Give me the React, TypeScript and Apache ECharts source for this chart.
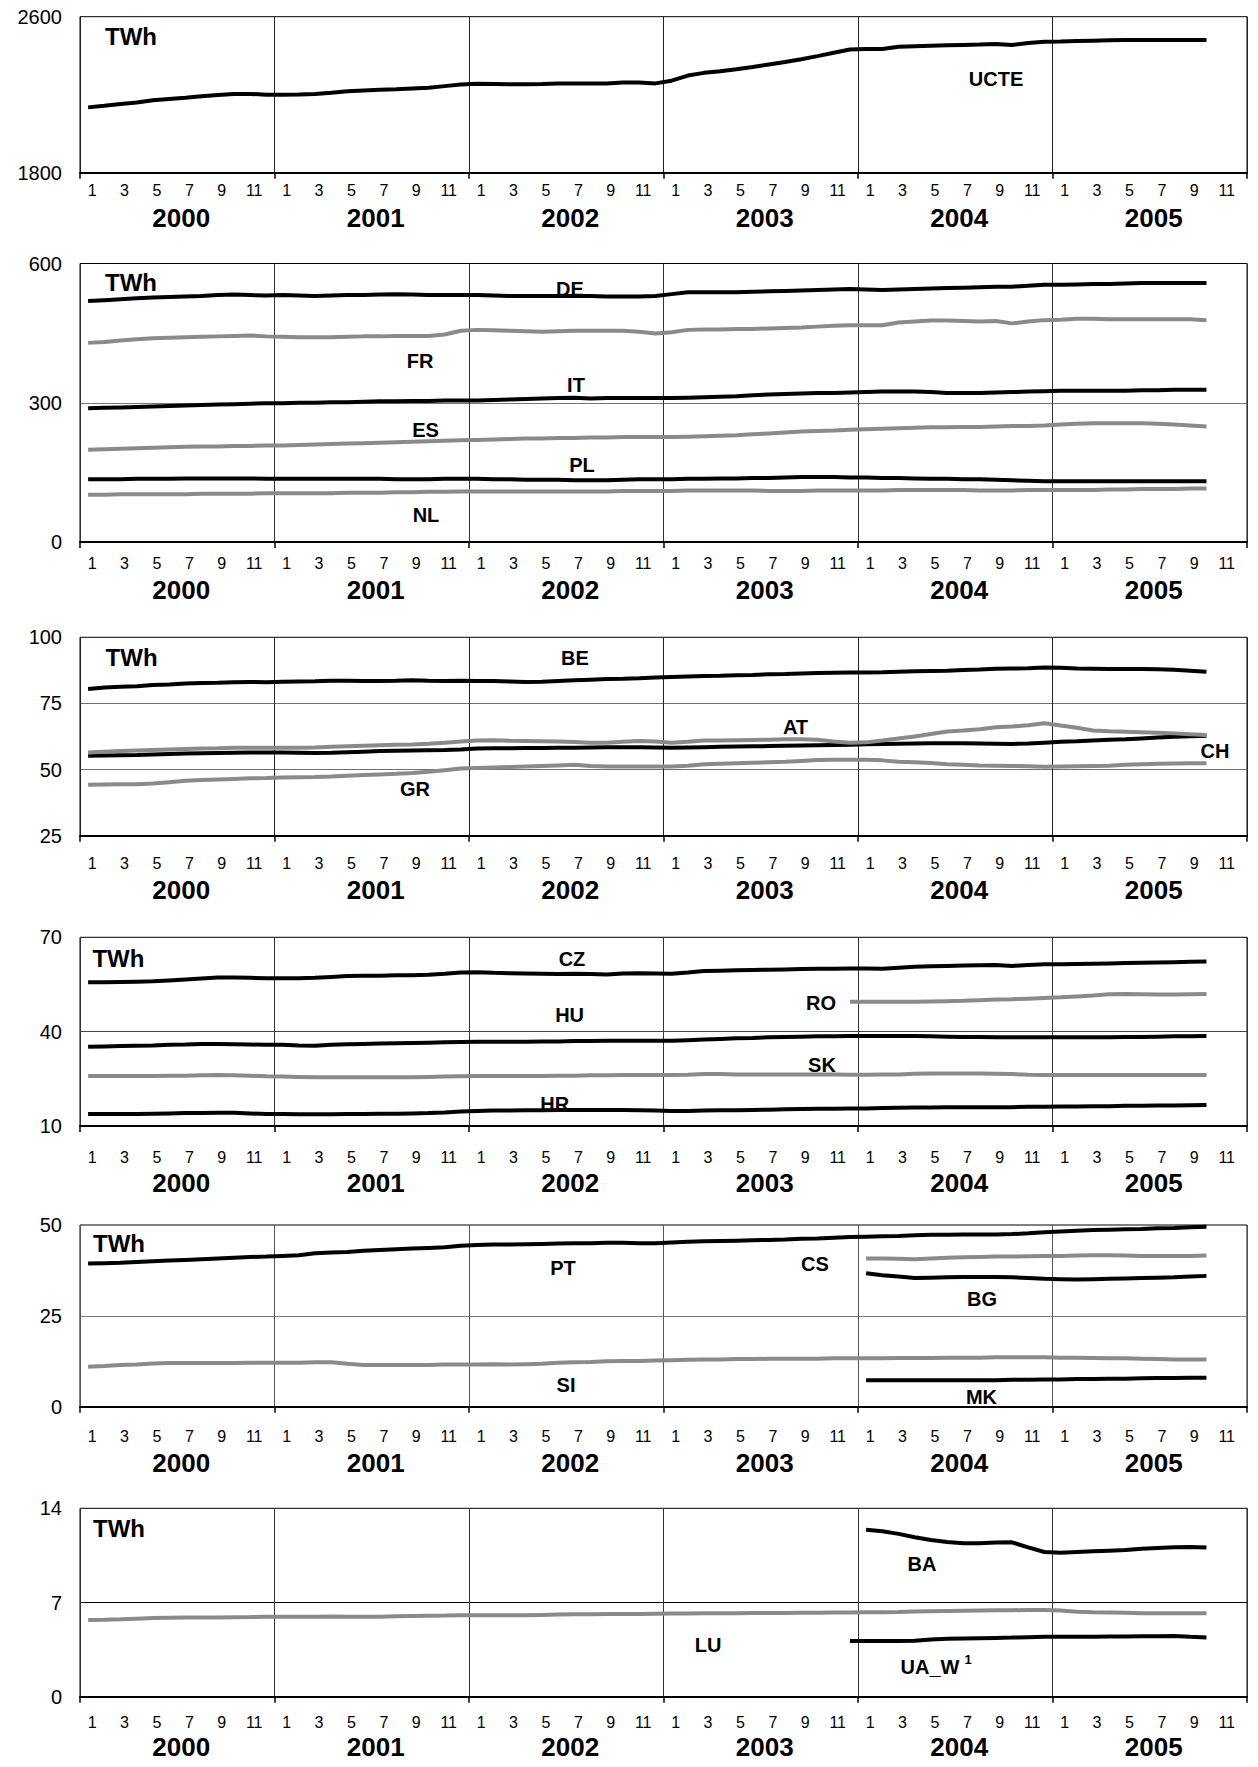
import React, { useEffect, useRef } from 'react';
import * as echarts from 'echarts';

const YEARS = ['2000', '2001', '2002', '2003', '2004', '2005'];
const MONTHS = ['1', '2', '3', '4', '5', '6', '7', '8', '9', '10', '11', '12'];
const CATEGORIES = YEARS.flatMap((y) => MONTHS.map((m) => `${y}-${m}`));

// start indices for series beginning later
const START_DEC_2003 = 47;
const START_JAN_2004 = 48;

// Panel 1
const UCTE = [
  2135, 2143, 2152, 2160, 2172, 2178, 2184, 2192, 2198, 2203, 2204, 2200,
  2200, 2201, 2204, 2210, 2218, 2222, 2225, 2228, 2232, 2236, 2244, 2252,
  2256, 2255, 2254, 2254, 2255, 2257, 2258, 2258, 2257, 2262, 2262, 2258,
  2272, 2298, 2312, 2320, 2330, 2342, 2355, 2368, 2382, 2398, 2415, 2432,
  2434, 2434, 2446, 2449, 2451, 2453, 2455, 2457, 2460, 2455, 2465, 2472,
  2473, 2475, 2477, 2479, 2480, 2481, 2481, 2481, 2481, 2480,
];

// Panel 2
const DE = [
  519, 521, 523, 525, 527, 528, 529, 530, 532, 533, 532, 531,
  532, 531, 530, 531, 532, 532, 533, 534, 533, 532, 532, 532,
  532, 531, 530, 530, 530, 530, 530, 530, 529, 529, 529, 530,
  534, 538, 538, 538, 538, 539, 540, 541, 542, 543, 544, 545,
  544, 543, 544, 545, 546, 547, 548, 549, 550, 550, 552, 554,
  554, 555, 556, 556, 557, 558, 558, 558, 558, 558,
];
const FR = [
  429, 431, 434, 437, 439, 440, 441, 442, 443, 444, 445, 443,
  442, 441, 441, 441, 442, 443, 443, 444, 444, 444, 447, 455,
  457, 456, 455, 454, 453, 454, 455, 455, 455, 455, 453, 449,
  452, 457, 458, 458, 459, 459, 460, 461, 462, 464, 466, 467,
  467, 467, 473, 475, 477, 477, 476, 475, 476, 471, 475, 478,
  479, 481, 481, 480, 480, 480, 480, 480, 480, 478,
];
const IT = [
  288, 289, 290, 291, 292, 293, 294, 295, 296, 297, 298, 299,
  299, 300, 300, 301, 301, 302, 303, 303, 304, 304, 305, 305,
  305, 306, 307, 308, 309, 310, 311, 309, 310, 310, 310, 310,
  310, 311, 312, 313, 314, 316, 318, 319, 320, 321, 321, 322,
  323, 324, 324, 324, 323, 321, 321, 321, 322, 323, 324, 325,
  326, 326, 326, 326, 326, 327, 327, 328, 328, 328,
];
const ES = [
  199, 200, 201, 202, 203, 204, 205, 206, 206, 207, 207, 208,
  208, 209, 210, 211, 212, 213, 214, 215, 216, 217, 218, 219,
  220, 221, 222, 223, 223, 224, 224, 225, 225, 226, 226, 226,
  226, 227, 228, 229, 230, 232, 234, 236, 238, 239, 240, 242,
  243, 244, 245, 246, 247, 247, 248, 248, 249, 250, 250, 251,
  253, 255, 256, 256, 256, 256, 255, 253, 251, 249,
];
const PL = [
  135, 135, 135, 136, 136, 136, 137, 137, 137, 137, 137, 136,
  136, 136, 136, 136, 136, 136, 136, 135, 135, 135, 136, 136,
  136, 135, 135, 134, 134, 134, 133, 133, 133, 134, 135, 135,
  135, 136, 136, 137, 137, 138, 138, 139, 140, 140, 140, 139,
  139, 138, 138, 137, 136, 136, 135, 135, 134, 133, 132, 131,
  131, 131, 131, 131, 131, 131, 131, 131, 131, 131,
];
const NL = [
  102, 102, 103, 103, 103, 103, 103, 104, 104, 104, 104, 105,
  105, 105, 105, 105, 106, 106, 106, 107, 107, 108, 108, 109,
  109, 109, 109, 109, 109, 109, 109, 109, 109, 110, 110, 110,
  110, 111, 111, 111, 111, 111, 110, 110, 110, 111, 111, 111,
  111, 111, 112, 112, 112, 112, 112, 111, 111, 111, 112, 112,
  112, 112, 112, 113, 113, 114, 114, 114, 115, 115,
];

// Panel 3
const BE = [
  80.5, 81.0, 81.3, 81.5, 82.0, 82.2, 82.5, 82.7, 82.8, 83.0, 83.1, 83.0,
  83.2, 83.3, 83.4, 83.6, 83.6, 83.5, 83.5, 83.6, 83.8, 83.6, 83.5, 83.6,
  83.5, 83.5, 83.3, 83.1, 83.2, 83.5, 83.8, 84.0, 84.2, 84.3, 84.5, 84.8,
  85.0, 85.2, 85.4, 85.5, 85.7, 85.8, 86.0, 86.1, 86.3, 86.5, 86.6, 86.7,
  86.7, 86.8, 87.0, 87.2, 87.3, 87.4, 87.6, 87.8, 88.1, 88.2, 88.3, 88.6,
  88.5, 88.2, 88.1, 88.0, 88.0, 88.0, 87.9, 87.7, 87.4, 87.0,
];
const AT = [
  56.5, 56.8, 57.0, 57.2, 57.4, 57.6, 57.8, 58.0, 58.1, 58.3, 58.3, 58.3,
  58.3, 58.3, 58.4, 58.6, 58.8, 59.0, 59.2, 59.4, 59.5, 59.8, 60.2, 60.6,
  61.0, 61.1, 60.9, 60.8, 60.7, 60.6, 60.4, 60.2, 60.2, 60.5, 60.8, 60.6,
  60.2, 60.5, 61.0, 61.0, 61.1, 61.2, 61.3, 61.5, 61.5, 61.3, 60.6, 60.2,
  60.3, 61.0, 61.8, 62.5, 63.5, 64.4, 64.8, 65.3, 66.0, 66.3, 66.8, 67.5,
  66.7, 65.8, 64.8, 64.5, 64.3, 64.1, 63.9, 63.7, 63.4, 63.1,
];
const CH = [
  55.2, 55.3, 55.4, 55.5, 55.7, 55.9, 56.1, 56.2, 56.3, 56.4, 56.5, 56.5,
  56.5, 56.4, 56.3, 56.4, 56.6, 56.8, 57.0, 57.1, 57.2, 57.3, 57.4, 57.6,
  58.0, 58.1, 58.1, 58.2, 58.2, 58.3, 58.3, 58.4, 58.5, 58.5, 58.5, 58.4,
  58.3, 58.4, 58.5, 58.6, 58.7, 58.8, 58.9, 59.0, 59.1, 59.2, 59.3, 59.4,
  59.6, 59.7, 59.8, 59.9, 60.0, 60.0, 60.0, 59.9, 59.8, 59.7, 59.9, 60.2,
  60.5, 60.7, 61.0, 61.3, 61.5, 61.8, 62.1, 62.4, 62.6, 62.8,
];
const GR = [
  44.3, 44.4, 44.5, 44.5, 44.8, 45.2, 45.8, 46.1, 46.3, 46.5, 46.7, 46.8,
  47.0, 47.1, 47.2, 47.4, 47.7, 48.0, 48.2, 48.4, 48.7, 49.2, 49.8, 50.4,
  50.6, 50.8, 51.0, 51.2, 51.4, 51.6, 51.8, 51.4, 51.2, 51.2, 51.2, 51.2,
  51.2, 51.5, 52.0, 52.2, 52.4, 52.6, 52.8, 53.0, 53.3, 53.6, 53.7, 53.7,
  53.7, 53.5, 53.0, 52.8, 52.5, 52.0, 51.8, 51.6, 51.5, 51.4, 51.3, 51.1,
  51.2, 51.3, 51.4, 51.5, 51.8, 52.0, 52.2, 52.3, 52.4, 52.4,
];

// Panel 4
const CZ = [
  55.7, 55.7, 55.8, 55.9, 56.0, 56.3, 56.6, 56.9, 57.2, 57.2, 57.1, 57.0,
  57.0, 57.0, 57.1, 57.4, 57.7, 57.8, 57.8, 57.9, 57.9, 58.1, 58.4, 58.8,
  58.9, 58.7, 58.6, 58.5, 58.4, 58.3, 58.4, 58.3, 58.2, 58.5, 58.6, 58.5,
  58.4, 58.8, 59.3, 59.4, 59.5, 59.6, 59.7, 59.8, 59.9, 60.0, 60.0, 60.1,
  60.1, 60.0, 60.3, 60.6, 60.8, 60.9, 61.0, 61.1, 61.2, 60.9, 61.2, 61.4,
  61.4, 61.5, 61.6, 61.7, 61.8, 61.9, 62.0, 62.1, 62.2, 62.3,
];
const HU = [
  35.2, 35.3, 35.4, 35.5, 35.6, 35.8, 35.9, 36.1, 36.1, 36.0, 35.9, 35.8,
  35.8, 35.6, 35.5, 35.8, 36.0, 36.1, 36.2, 36.3, 36.4, 36.5, 36.6, 36.7,
  36.8, 36.8, 36.8, 36.8, 36.9, 36.9, 37.0, 37.0, 37.1, 37.1, 37.1, 37.1,
  37.1, 37.3, 37.5, 37.7, 37.9, 38.0, 38.2, 38.3, 38.4, 38.5, 38.5, 38.6,
  38.6, 38.6, 38.6, 38.6, 38.5, 38.4, 38.3, 38.3, 38.2, 38.2, 38.2, 38.2,
  38.2, 38.2, 38.2, 38.2, 38.3, 38.3, 38.4, 38.5, 38.5, 38.6,
];
const SK = [
  25.9, 25.9, 25.9, 25.9, 25.9, 26.0, 26.0, 26.1, 26.2, 26.1, 26.0, 25.8,
  25.7, 25.6, 25.5, 25.5, 25.5, 25.5, 25.5, 25.5, 25.5, 25.6, 25.7, 25.8,
  25.9, 25.9, 25.9, 25.9, 25.9, 26.0, 26.0, 26.1, 26.1, 26.2, 26.2, 26.2,
  26.2, 26.3, 26.5, 26.5, 26.4, 26.4, 26.4, 26.4, 26.4, 26.4, 26.4, 26.3,
  26.3, 26.4, 26.4, 26.6, 26.7, 26.7, 26.7, 26.7, 26.6, 26.5, 26.3, 26.2,
  26.2, 26.2, 26.2, 26.2, 26.2, 26.2, 26.2, 26.2, 26.2, 26.2,
];
const HR = [
  13.8, 13.8, 13.8, 13.8, 13.9, 14.0, 14.1, 14.1, 14.2, 14.2, 14.0, 13.8,
  13.8, 13.7, 13.7, 13.7, 13.8, 13.8, 13.9, 13.9, 14.0, 14.1, 14.3, 14.6,
  14.8, 14.9, 14.9, 15.0, 15.0, 15.1, 15.1, 15.1, 15.1, 15.1, 15.0, 14.9,
  14.8, 14.8, 14.9, 15.0, 15.0, 15.1, 15.2, 15.3, 15.4, 15.5, 15.5, 15.6,
  15.6, 15.7, 15.8, 15.9, 15.9, 16.0, 16.0, 16.0, 16.0, 16.0, 16.1, 16.1,
  16.2, 16.2, 16.3, 16.3, 16.4, 16.4, 16.5, 16.5, 16.6, 16.7,
];
const RO = [
  49.5, 49.5, 49.5, 49.5, 49.5, 49.6, 49.7, 49.8, 50.0, 50.2, 50.3, 50.5,
  50.7, 50.9, 51.2, 51.5, 51.9, 52.0, 51.9, 51.8, 51.8, 51.9, 52.0,
];

// Panel 5
const PT = [
  39.4, 39.5, 39.6, 39.8, 40.0, 40.2, 40.4, 40.6, 40.8, 41.0, 41.2, 41.3,
  41.5, 41.7, 42.2, 42.4, 42.6, 42.9, 43.1, 43.3, 43.5, 43.7, 43.9, 44.3,
  44.5, 44.6, 44.6, 44.7, 44.8, 44.9, 45.0, 45.0, 45.1, 45.1, 45.0, 45.0,
  45.2, 45.4, 45.5, 45.6, 45.7, 45.8, 45.9, 46.0, 46.2, 46.3, 46.5, 46.7,
  46.8, 46.9, 47.0, 47.2, 47.3, 47.3, 47.4, 47.4, 47.4, 47.5, 47.7, 48.0,
  48.2, 48.4, 48.6, 48.7, 48.8, 48.9, 49.1, 49.2, 49.4, 49.5,
];
const CS = [
  40.8, 40.8, 40.7, 40.6, 40.8, 41.0, 41.1, 41.2, 41.3, 41.3, 41.4, 41.5,
  41.5, 41.6, 41.7, 41.7, 41.6, 41.5, 41.5, 41.5, 41.5, 41.6,
];
const BG = [
  36.7, 36.2, 35.8, 35.4, 35.5, 35.6, 35.7, 35.7, 35.7, 35.6, 35.4, 35.2,
  35.1, 35.0, 35.1, 35.2, 35.3, 35.4, 35.5, 35.6, 35.8, 36.0,
];
const SI = [
  11.0, 11.2, 11.5, 11.6, 11.9, 12.0, 12.0, 12.0, 12.0, 12.0, 12.1, 12.1,
  12.1, 12.1, 12.2, 12.2, 11.8, 11.5, 11.5, 11.5, 11.5, 11.5, 11.6, 11.6,
  11.6, 11.7, 11.6, 11.7, 11.8, 12.1, 12.2, 12.3, 12.5, 12.6, 12.6, 12.7,
  12.8, 12.9, 13.0, 13.0, 13.1, 13.1, 13.2, 13.2, 13.2, 13.2, 13.3, 13.3,
  13.3, 13.3, 13.4, 13.4, 13.4, 13.5, 13.5, 13.5, 13.6, 13.6, 13.6, 13.6,
  13.5, 13.5, 13.4, 13.3, 13.3, 13.2, 13.1, 13.0, 13.0, 13.0,
];
const MK = [
  7.3, 7.3, 7.3, 7.3, 7.3, 7.3, 7.3, 7.3, 7.3, 7.4, 7.4, 7.5,
  7.5, 7.6, 7.6, 7.7, 7.7, 7.8, 7.9, 7.9, 8.0, 8.0,
];

// Panel 6
const BA = [
  12.4, 12.3, 12.1, 11.85, 11.65, 11.5, 11.4, 11.4, 11.45, 11.47, 11.1, 10.75,
  10.7, 10.75, 10.8, 10.85, 10.9, 11.0, 11.05, 11.1, 11.12, 11.08,
];
const LU = [
  5.70, 5.72, 5.75, 5.80, 5.84, 5.87, 5.88, 5.88, 5.88, 5.90, 5.92, 5.95,
  5.95, 5.95, 5.95, 5.96, 5.95, 5.94, 5.95, 5.98, 6.00, 6.02, 6.03, 6.05,
  6.05, 6.06, 6.05, 6.06, 6.08, 6.10, 6.12, 6.13, 6.14, 6.15, 6.15, 6.17,
  6.18, 6.19, 6.20, 6.20, 6.21, 6.22, 6.22, 6.22, 6.23, 6.24, 6.25, 6.26,
  6.27, 6.28, 6.30, 6.33, 6.35, 6.37, 6.39, 6.41, 6.42, 6.43, 6.44, 6.44,
  6.40, 6.32, 6.27, 6.25, 6.23, 6.21, 6.20, 6.20, 6.20, 6.20,
];
const UA_W = [
  4.14, 4.14, 4.14, 4.14, 4.15, 4.25, 4.30, 4.33, 4.35, 4.37, 4.39, 4.42,
  4.45, 4.46, 4.46, 4.46, 4.47, 4.48, 4.49, 4.50, 4.51, 4.45, 4.40,
];

const pad = (start: number, vals: number[]) =>
  (Array(start).fill(null) as (number | null)[]).concat(vals);

const BLACK = '#000000';
const GRAY = '#8a8a8a';
const FONT = '"Liberation Sans", Arial, sans-serif';

type S = { data: (number | null)[]; color: string };
type T = { text: string; x: number; y: number; size?: number; z?: number };
type Panel = {
  top: number;
  height: number;
  min: number;
  max: number;
  interval: number;
  shown: number[];
  grids: number[];
  gridColor: string;
  vColor: string;
  monthMargin: number;
  yearMargin: number;
  series: S[];
  texts: T[];
};

const PANELS: Panel[] = [
  {
    top: 16.7, height: 156, min: 1800, max: 2600, interval: 200,
    shown: [1800, 2600], grids: [], gridColor: '#777', vColor: '#222',
    monthMargin: 10, yearMargin: 32,
    series: [{ data: UCTE, color: BLACK }],
    texts: [
      { text: 'TWh', x: 131, y: 36.5, size: 24 },
      { text: 'UCTE', x: 996, y: 79 },
    ],
  },
  {
    top: 263.5, height: 278.5, min: 0, max: 600, interval: 300,
    shown: [0, 300, 600], grids: [300], gridColor: '#777', vColor: '#333',
    monthMargin: 13.5, yearMargin: 35,
    series: [
      { data: DE, color: BLACK },
      { data: FR, color: GRAY },
      { data: IT, color: BLACK },
      { data: ES, color: GRAY },
      { data: PL, color: BLACK },
      { data: NL, color: GRAY },
    ],
    texts: [
      { text: 'TWh', x: 131, y: 282.5, size: 24 },
      { text: 'DE', x: 570, y: 289, z: 0 },
      { text: 'FR', x: 420, y: 360.5 },
      { text: 'IT', x: 576, y: 385 },
      { text: 'ES', x: 425.6, y: 430 },
      { text: 'PL', x: 582, y: 465 },
      { text: 'NL', x: 426, y: 514.5 },
    ],
  },
  {
    top: 637.3, height: 198.5, min: 25, max: 100, interval: 25,
    shown: [25, 50, 75, 100], grids: [50, 75], gridColor: '#6f6f6f', vColor: '#222',
    monthMargin: 20, yearMargin: 41,
    series: [
      { data: BE, color: BLACK },
      { data: CH, color: BLACK },
      { data: AT, color: GRAY },
      { data: GR, color: GRAY },
    ],
    texts: [
      { text: 'TWh', x: 131.6, y: 657.5, size: 24 },
      { text: 'BE', x: 575, y: 657.5 },
      { text: 'AT', x: 795.5, y: 727 },
      { text: 'CH', x: 1215, y: 750.5 },
      { text: 'GR', x: 415, y: 789 },
    ],
  },
  {
    top: 937.3, height: 188.7, min: 10, max: 70, interval: 10,
    shown: [10, 40, 70], grids: [40], gridColor: '#444', vColor: '#333',
    monthMargin: 23, yearMargin: 44,
    series: [
      { data: CZ, color: BLACK },
      { data: pad(START_DEC_2003, RO), color: GRAY },
      { data: HU, color: BLACK },
      { data: SK, color: GRAY },
      { data: HR, color: BLACK },
    ],
    texts: [
      { text: 'TWh', x: 118.4, y: 958, size: 24 },
      { text: 'CZ', x: 572, y: 959 },
      { text: 'HU', x: 569.6, y: 1015 },
      { text: 'RO', x: 821, y: 1002.5 },
      { text: 'SK', x: 822, y: 1064.7 },
      { text: 'HR', x: 554.7, y: 1104, z: 0 },
    ],
  },
  {
    top: 1225, height: 181.7, min: 0, max: 50, interval: 25,
    shown: [0, 25, 50], grids: [25], gridColor: '#808080', vColor: '#555',
    monthMargin: 22, yearMargin: 43,
    series: [
      { data: PT, color: BLACK },
      { data: pad(START_JAN_2004, CS), color: GRAY },
      { data: pad(START_JAN_2004, BG), color: BLACK },
      { data: SI, color: GRAY },
      { data: pad(START_JAN_2004, MK), color: BLACK },
    ],
    texts: [
      { text: 'TWh', x: 119, y: 1243.3, size: 24 },
      { text: 'PT', x: 563, y: 1267.5 },
      { text: 'CS', x: 815, y: 1264 },
      { text: 'BG', x: 982, y: 1298.5 },
      { text: 'SI', x: 566, y: 1385 },
      { text: 'MK', x: 981.5, y: 1397 },
    ],
  },
  {
    top: 1508.3, height: 188.4, min: 0, max: 14, interval: 7,
    shown: [0, 7, 14], grids: [7], gridColor: '#000', vColor: '#333',
    monthMargin: 18, yearMargin: 37,
    series: [
      { data: pad(START_JAN_2004, BA), color: BLACK },
      { data: LU, color: GRAY },
      { data: pad(START_DEC_2003, UA_W), color: BLACK },
    ],
    texts: [
      { text: 'TWh', x: 119, y: 1528, size: 24 },
      { text: 'BA', x: 922, y: 1564 },
      { text: 'LU', x: 708, y: 1645 },
      { text: 'UA_W', x: 930, y: 1667 },
      { text: '1', x: 968, y: 1659, size: 13 },
    ],
  },
];

const GRID_LEFT = 80;
const GRID_WIDTH = 1167;

function buildOption() {
  const grid: any[] = [];
  const xAxis: any[] = [];
  const yAxis: any[] = [];
  const series: any[] = [];
  const elements: any[] = [];

  PANELS.forEach((p, i) => {
    grid.push({
      left: GRID_LEFT,
      width: GRID_WIDTH,
      top: p.top,
      height: p.height,
      show: true,
      borderColor: '#000',
      borderWidth: 1,
      backgroundColor: 'rgba(0,0,0,0)',
      containLabel: false,
    });
    xAxis.push({
      type: 'category',
      gridIndex: i,
      data: CATEGORIES,
      boundaryGap: true,
      position: 'bottom',
      axisLine: { show: true, lineStyle: { color: '#000', width: 2 } },
      axisTick: {
        show: true,
        interval: (idx: number) => idx % 12 === 0,
        length: 6,
        lineStyle: { color: '#000', width: 1.5 },
      },
      axisLabel: {
        interval: 1,
        formatter: (v: string) => v.split('-')[1],
        fontSize: 16,
        fontFamily: FONT,
        color: '#000',
        margin: p.monthMargin,
        padding: [0, 0, 0, 8],
      },
      splitLine: {
        show: true,
        interval: (idx: number) => idx % 12 === 0,
        lineStyle: { color: p.vColor, width: 1 },
      },
    });
    xAxis.push({
      type: 'category',
      gridIndex: i,
      data: YEARS,
      boundaryGap: true,
      position: 'bottom',
      axisLine: { show: false },
      axisTick: { show: false },
      splitLine: { show: false },
      axisLabel: {
        fontSize: 26,
        fontWeight: 'bold',
        fontFamily: FONT,
        color: '#000',
        margin: p.yearMargin,
        padding: [0, 0, 0, 8],
      },
    });
    const tickVals: number[] = [];
    for (let v = p.min; v <= p.max + 1e-9; v += p.interval) tickVals.push(Math.round(v * 1000) / 1000);
    yAxis.push({
      type: 'value',
      gridIndex: i,
      min: p.min,
      max: p.max,
      interval: p.interval,
      axisLine: { show: false },
      axisTick: { show: false },
      axisLabel: {
        formatter: (v: number) => (p.shown.some((s) => Math.abs(s - v) < 1e-6) ? String(v) : ''),
        fontSize: 20,
        fontFamily: FONT,
        color: '#000',
        margin: 18,
      },
      splitLine: {
        show: true,
        lineStyle: {
          color: tickVals.map((v) => (p.grids.some((g) => Math.abs(g - v) < 1e-6) ? p.gridColor : 'rgba(0,0,0,0)')),
          width: 1,
        },
      },
    });
    p.series.forEach((s) => {
      series.push({
        type: 'line',
        xAxisIndex: i * 2,
        yAxisIndex: i,
        data: s.data,
        symbol: 'none',
        showSymbol: false,
        connectNulls: false,
        lineStyle: { color: s.color, width: 4 },
        itemStyle: { color: s.color },
        z: 3,
        silent: true,
      });
    });
    p.texts.forEach((t) => {
      elements.push({
        type: 'text',
        x: t.x,
        y: t.y,
        z: t.z === undefined ? 10 : t.z,
        silent: true,
        style: {
          text: t.text,
          fill: '#000',
          font: `bold ${t.size || 20}px ${FONT}`,
          align: 'center',
          verticalAlign: 'middle',
        },
      });
    });
  });

  return {
    animation: false,
    backgroundColor: '#ffffff',
    textStyle: { fontFamily: FONT },
    grid,
    xAxis,
    yAxis,
    series,
    graphic: { elements },
  };
}

export default function App() {
  const ref = useRef<HTMLDivElement>(null);
  useEffect(() => {
    document.body.style.margin = '0';
    if (!ref.current) return;
    const chart = echarts.init(ref.current, undefined, { renderer: 'svg' });
    chart.setOption(buildOption() as any);
    return () => {
      chart.dispose();
    };
  }, []);
  return <div ref={ref} style={{ width: 1258, height: 1767, background: '#fff' }} />;
}
